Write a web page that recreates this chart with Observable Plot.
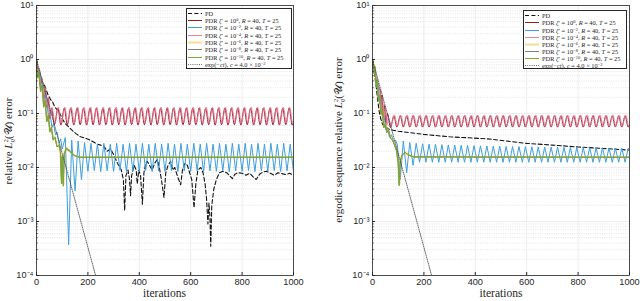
<!DOCTYPE html>
<html><head><meta charset="utf-8">
<script src="https://cdn.jsdelivr.net/npm/d3@7"></script>
<script src="https://cdn.jsdelivr.net/npm/@observablehq/plot@0.6"></script>
<style>
html,body{margin:0;padding:0;background:#fff;}
#fig{position:relative;width:640px;height:301px;overflow:hidden;}
#fig > svg{position:absolute;top:0;}
.tx{position:absolute;font-family:"Liberation Serif","DejaVu Serif",serif;color:#262626;white-space:nowrap;line-height:1;}
.ylab{font-size:11px;transform:translate(-50%,-50%) rotate(-90deg);}
.xlab{font-size:11.5px;transform:translate(-50%,-50%);}
.ss{display:inline-block;vertical-align:-0.3em;font-size:0.62em;line-height:0.95;text-align:left;}
.legend{position:absolute;background:#fff;border:0.8px solid #262626;box-sizing:border-box;font-family:"Liberation Serif","DejaVu Serif",serif;font-size:6.4px;color:#262626;}
.row{position:absolute;left:0;height:7px;display:flex;align-items:center;white-space:nowrap;}
.row svg{flex:none;margin-right:2px;}
.legend sup{font-size:0.7em;vertical-align:0.45em;line-height:0;}
</style></head><body><div id="fig"></div>
<script>
// ---------- axis ticks ----------
const xTicks = [0, 200, 400, 600, 800, 1000];
const xTickLabels = ["0", "200", "400", "600", "800", "1000"];
const yTicks = [1e-4, 1e-3, 1e-2, 1e-1, 1e0, 1e1];
const yTickLabels = ["10\u207B\u2074", "10\u207B\u00B3", "10\u207B\u00B2", "10\u207B\u00B9", "10\u2070", "10\u00B9"];

// ---------- legend ----------
const legendKeys = ["pd", "z0", "z2", "z4", "z6", "z8", "z10", "exp"];
const legendLabels = [
  "PD",
  "PDR <i>ζ</i>′ = 10<sup>0</sup>, <i>R</i> = 40, <i>T</i> = 25",
  "PDR <i>ζ</i>′ = 10<sup>−2</sup>, <i>R</i> = 40, <i>T</i> = 25",
  "PDR <i>ζ</i>′ = 10<sup>−4</sup>, <i>R</i> = 40, <i>T</i> = 25",
  "PDR <i>ζ</i>′ = 10<sup>−6</sup>, <i>R</i> = 40, <i>T</i> = 25",
  "PDR <i>ζ</i>′ = 10<sup>−8</sup>, <i>R</i> = 40, <i>T</i> = 25",
  "PDR <i>ζ</i>′ = 10<sup>−10</sup>, <i>R</i> = 40, <i>T</i> = 25",
  "exp(−<i>ct</i>), <i>c</i> = 4.0 × 10<sup>−2</sup>"
];

// ---------- LEFT panel: relative error ----------
const pdL = [[0,1.0],[4,0.75],[8,0.5],[14,0.55],[20,0.38],[28,0.36],[35,0.3],[45,0.22],[55,0.18],[61,0.17],[72,0.13],[87,0.11],[100,0.08],[112,0.065],[126,0.056],[140,0.048],[155,0.042],[171,0.037],[190,0.035],[204,0.033],[220,0.03],[236,0.027],[250,0.026],[262,0.025],[275,0.02],[288,0.022],[301,0.017],[315,0.012],[330,0.009],[338,0.006],[343,0.0016],[348,0.007],[356,0.009],[362,0.006],[366,0.003],[370,0.007],[380,0.011],[388,0.009],[392,0.005],[398,0.009],[405,0.007],[412,0.0021],[418,0.008],[425,0.012],[431,0.013],[440,0.011],[450,0.009],[460,0.012],[470,0.014],[478,0.01],[486,0.006],[496,0.0028],[503,0.008],[512,0.011],[522,0.013],[530,0.009],[538,0.01],[548,0.007],[561,0.0048],[568,0.009],[578,0.012],[587,0.011],[596,0.008],[604,0.006],[613,0.0018],[620,0.005],[628,0.009],[639,0.01],[648,0.008],[656,0.005],[662,0.0025],[667,0.0009],[671,0.0022],[675,0.0012],[678,0.00035],[682,0.002],[690,0.004],[700,0.006],[712,0.008],[725,0.0085],[740,0.008],[752,0.007],[762,0.0062],[772,0.0075],[785,0.008],[800,0.0078],[815,0.0072],[830,0.0078],[842,0.0068],[855,0.006],[868,0.0075],[880,0.0082],[895,0.0085],[910,0.0078],[925,0.0072],[940,0.008],[955,0.0077],[970,0.0074],[985,0.0078],[1000,0.0072]];

const z0L = [[0,1.0],[4,0.55],[8,0.68],[14,0.33],[20,0.45],[27,0.2],[33,0.28],[40,0.13],[46,0.19],[52,0.08],[58,.125],[70,.062],[83,.126],[95,.061],[108,.125],[120,.062],[133,.126],[145,.061],[158,.125],[170,.062],[183,.126],[195,.061],[208,.125],[220,.062],[233,.126],[245,.061],[258,.125],[270,.062],[283,.126],[295,.061],[308,.125],[320,.062],[333,.126],[345,.061],[358,.125],[370,.062],[383,.126],[395,.061],[408,.125],[420,.062],[433,.126],[445,.061],[458,.125],[470,.062],[483,.126],[495,.061],[508,.125],[520,.062],[533,.126],[545,.061],[558,.125],[570,.062],[583,.126],[595,.061],[608,.125],[620,.062],[633,.126],[645,.061],[658,.125],[670,.062],[683,.126],[695,.061],[708,.125],[720,.062],[733,.126],[745,.061],[758,.125],[770,.062],[783,.126],[795,.061],[808,.125],[820,.062],[833,.126],[845,.061],[858,.125],[870,.062],[883,.126],[895,.061],[908,.125],[920,.062],[933,.126],[945,.061],[958,.125],[970,.062],[983,.126],[995,.061],[1000,.07]];

const z2L = [[0,0.9],[7,0.55],[13,0.62],[20,0.3],[26,0.36],[33,0.16],[39,0.2],[46,0.09],[52,0.11],[60,0.055],[66,0.065],[74,0.04],[80,0.045],[88,0.028],[94,0.034],[100,0.022],[112,0.036],[125,0.00037],[137,0.032],[150,0.0037],[162,0.031],[175,0.006],[187,0.029],[200,.0085],[212,.028],[225,.0088],[237,.027],[250,.0084],[262,.028],[275,.0087],[287,.027],[300,.0085],[312,.028],[325,.0088],[337,.027],[350,.0084],[362,.028],[375,.0087],[387,.027],[400,.0085],[412,.028],[425,.0088],[437,.027],[450,.0084],[462,.028],[475,.0087],[487,.027],[500,.0085],[512,.028],[525,.0088],[537,.027],[550,.0084],[562,.028],[575,.0087],[587,.027],[600,.0085],[612,.028],[625,.0088],[637,.027],[650,.0084],[662,.028],[675,.0087],[687,.027],[700,.0085],[712,.028],[725,.0088],[737,.027],[750,.0084],[762,.028],[775,.0087],[787,.027],[800,.0085],[812,.028],[825,.0088],[837,.027],[850,.0084],[862,.028],[875,.0087],[887,.027],[900,.0085],[912,.028],[925,.0088],[937,.027],[950,.0084],[962,.028],[975,.0087],[987,.027],[1000,.0085]];

const z4L = [[0,0.95],[5,0.6],[9,0.7],[15,0.36],[21,0.46],[28,0.22],[34,0.3],[41,0.14],[47,0.2],[54,0.085],[60,.132],[72,.067],[85,.131],[97,.066],[110,.132],[122,.067],[135,.131],[147,.066],[160,.132],[172,.067],[185,.131],[197,.066],[210,.132],[222,.067],[235,.131],[247,.066],[260,.132],[272,.067],[285,.131],[297,.066],[310,.132],[322,.067],[335,.131],[347,.066],[360,.132],[372,.067],[385,.131],[397,.066],[410,.132],[422,.067],[435,.131],[447,.066],[460,.132],[472,.067],[485,.131],[497,.066],[510,.132],[522,.067],[535,.131],[547,.066],[560,.132],[572,.067],[585,.131],[597,.066],[610,.132],[622,.067],[635,.131],[647,.066],[660,.132],[672,.067],[685,.131],[697,.066],[710,.132],[722,.067],[735,.131],[747,.066],[760,.132],[772,.067],[785,.131],[797,.066],[810,.132],[822,.067],[835,.131],[847,.066],[860,.132],[872,.067],[885,.131],[897,.066],[910,.132],[922,.067],[935,.131],[947,.066],[960,.132],[972,.067],[985,.131],[997,.066],[1000,.07]];

const z6L = [[0,0.9],[5,0.5],[10,0.58],[16,0.27],[22,0.33],[28,0.14],[34,0.18],[40,0.075],[46,0.095],[52,0.048],[58,0.056],[65,0.033],[72,0.037],[80,0.025],[87,0.027],[93,0.02],[98,0.0055],[101,0.017],[105,0.005],[109,0.019],[117,0.023],[130,0.02],[150,0.0165],[170,0.0155],[1000,0.0155]];
const z8L = [[0,0.88],[5,0.48],[10,0.57],[16,0.26],[22,0.33],[28,0.135],[34,0.175],[40,0.072],[46,0.092],[52,0.047],[58,0.055],[65,0.033],[72,0.036],[80,0.024],[87,0.026],[93,0.02],[97,0.006],[100,0.016],[104,0.005],[108,0.018],[116,0.022],[128,0.02],[148,0.0165],[168,0.0155],[1000,0.0155]];
const z10L = [[0,0.85],[5,0.45],[10,0.55],[16,0.25],[22,0.32],[28,0.13],[34,0.17],[40,0.07],[46,0.09],[52,0.045],[58,0.055],[65,0.032],[72,0.036],[80,0.024],[87,0.026],[93,0.02],[97,0.005],[100,0.016],[104,0.0045],[108,0.018],[116,0.023],[128,0.021],[145,0.017],[165,0.0155],[1000,0.0155]];

const expL = [[0,1.0],[250,0.000045]];

// ---------- RIGHT panel: ergodic sequence relative error ----------
const pdR = [[0,1.0],[5,0.7],[10,0.45],[15,0.3],[20,0.18],[26,0.11],[32,0.08],[40,0.062],[50,0.055],[60,0.052],[80,0.049],[100,0.047],[150,0.044],[200,0.041],[300,0.037],[445,0.034],[520,0.031],[600,0.028],[700,0.026],[800,0.024],[900,0.0225],[1000,0.021]];

const z0R = [[0,1.0],[5,0.62],[10,0.5],[15,0.42],[20,0.36],[25,0.3],[30,0.27],[33,0.12],[37,0.22],[42,0.09],[47,0.14],[52,0.065],[58,0.1],[70,.055],[83,.09],[95,.056],[108,.091],[120,.056],[133,.09],[145,.056],[158,.091],[170,.056],[183,.09],[195,.056],[208,.091],[220,.056],[233,.09],[245,.056],[258,.091],[270,.056],[283,.09],[295,.056],[308,.091],[320,.056],[333,.09],[345,.056],[358,.091],[370,.056],[383,.09],[395,.056],[408,.091],[420,.056],[433,.09],[445,.056],[458,.091],[470,.056],[483,.09],[495,.056],[508,.091],[520,.056],[533,.09],[545,.056],[558,.091],[570,.056],[583,.09],[595,.056],[608,.091],[620,.056],[633,.09],[645,.056],[658,.091],[670,.056],[683,.09],[695,.056],[708,.091],[720,.056],[733,.09],[745,.056],[758,.091],[770,.056],[783,.09],[795,.056],[808,.091],[820,.056],[833,.09],[845,.056],[858,.091],[870,.056],[883,.09],[895,.056],[908,.091],[920,.056],[933,.09],[945,.056],[958,.091],[970,.056],[983,.09],[995,.056],[1000,.062]];

const z2R = [[0,0.95],[6,0.55],[11,0.65],[17,0.3],[22,0.36],[28,0.15],[33,0.18],[39,0.08],[45,0.09],[52,0.05],[58,0.055],[66,0.037],[74,0.04],[82,0.03],[90,0.032],[97,0.026],[108,0.006],[120,0.031],[133,0.008],[145,0.029],[158,0.011],[170,0.028],[183,.0125],[195,.0275],[208,.0125],[220,.027],[233,.0125],[245,.0268],[258,.0125],[270,.0265],[283,.0125],[295,.0262],[308,.0125],[320,.026],[333,.0125],[345,.0258],[358,.0125],[370,.0256],[383,.0125],[395,.0254],[408,.0125],[420,.0252],[433,.0125],[445,.025],[458,.0125],[470,.0249],[483,.0125],[495,.0248],[508,.0125],[520,.0246],[533,.0125],[545,.0245],[558,.0125],[570,.0244],[583,.0125],[595,.0243],[608,.0125],[620,.0242],[633,.0125],[645,.0241],[658,.0125],[670,.024],[683,.0125],[695,.0239],[708,.0125],[720,.0238],[733,.0125],[745,.0237],[758,.0125],[770,.0236],[783,.0125],[795,.0235],[808,.0125],[820,.0234],[833,.0125],[845,.0233],[858,.0125],[870,.0232],[883,.0125],[895,.0231],[908,.0125],[920,.023],[933,.0125],[945,.0229],[958,.0125],[970,.0228],[983,.0125],[995,.0227],[1000,.022]];

const z4R = [[0,1.0],[6,0.6],[11,0.5],[17,0.4],[23,0.33],[29,0.25],[34,0.13],[39,0.2],[45,0.085],[50,0.12],[56,0.06],[62,0.085],[72,.059],[85,.094],[97,.059],[110,.093],[122,.059],[135,.094],[147,.059],[160,.093],[172,.059],[185,.094],[197,.059],[210,.093],[222,.059],[235,.094],[247,.059],[260,.093],[272,.059],[285,.094],[297,.059],[310,.093],[322,.059],[335,.094],[347,.059],[360,.093],[372,.059],[385,.094],[397,.059],[410,.093],[422,.059],[435,.094],[447,.059],[460,.093],[472,.059],[485,.094],[497,.059],[510,.093],[522,.059],[535,.094],[547,.059],[560,.093],[572,.059],[585,.094],[597,.059],[610,.093],[622,.059],[635,.094],[647,.059],[660,.093],[672,.059],[685,.094],[697,.059],[710,.093],[722,.059],[735,.094],[747,.059],[760,.093],[772,.059],[785,.094],[797,.059],[810,.093],[822,.059],[835,.094],[847,.059],[860,.093],[872,.059],[885,.094],[897,.059],[910,.093],[922,.059],[935,.094],[947,.059],[960,.093],[972,.059],[985,.094],[997,.059],[1000,.062]];

const z6R = [[0,1.0],[5,0.62],[9,0.76],[14,0.36],[18,0.43],[23,0.19],[28,0.23],[33,0.1],[38,0.125],[44,0.057],[50,0.066],[56,0.046],[62,0.05],[70,0.036],[78,0.033],[86,0.027],[94,0.021],[100,0.012],[105,0.005],[109,0.013],[116,0.017],[128,0.019],[142,0.017],[162,0.0157],[1000,0.0155]];
const z8R = [[0,1.0],[5,0.6],[9,0.74],[14,0.35],[18,0.42],[23,0.18],[28,0.22],[33,0.1],[38,0.12],[44,0.055],[50,0.065],[56,0.045],[62,0.05],[70,0.035],[78,0.032],[86,0.026],[94,0.02],[100,0.012],[104,0.0047],[108,0.013],[115,0.017],[127,0.019],[140,0.017],[160,0.0157],[1000,0.0155]];
const z10R = [[0,1.0],[5,0.58],[9,0.72],[14,0.34],[18,0.41],[23,0.17],[28,0.21],[33,0.095],[38,0.115],[44,0.054],[50,0.064],[56,0.044],[62,0.049],[70,0.035],[78,0.032],[86,0.026],[94,0.02],[100,0.012],[104,0.0046],[108,0.013],[115,0.017],[127,0.019],[140,0.017],[160,0.0157],[1000,0.0155]];

const expR = [[0,1.0],[250,0.000045]];

// ---------- styles ----------
const styles = {
  pd:  {stroke: "#111111", w: 1.1, dash: "4,2.4"},
  z0:  {stroke: "#A2142F", w: 1.0, curve: "monotone-x"},
  z2:  {stroke: "#3C9FDC", w: 1.0},
  z4:  {stroke: "#E0788C", w: 0.9, curve: "monotone-x"},
  z6:  {stroke: "#EDB120", w: 2.1, op: 0.45},
  z8:  {stroke: "#808080", w: 1.0},
  z10: {stroke: "#77AC30", w: 1.0},
  exp: {stroke: "#444444", w: 0.8, dash: "1,1.2"}
};
const drawOrder = ["pd", "z0", "z2", "z4", "z6", "z8", "z10", "exp"];

const minorY = [];
for (const e of [-4, -3, -2, -1, 0]) for (const m of [2,3,4,5,6,7,8,9]) minorY.push(m * Math.pow(10, e));
const yLab = new Map(yTicks.map((t, i) => [t, yTickLabels[i]]));
const xLab = new Map(xTicks.map((t, i) => [t, xTickLabels[i]]));

function panel(seriesMap, ml, mr) {
  const marks = [
    Plot.gridY(minorY, {stroke: "#d4d4d4", strokeOpacity: 1, strokeWidth: 0.6, strokeDasharray: "1,1.3"}),
    Plot.gridY(yTicks, {stroke: "#e8e8e8", strokeOpacity: 1, strokeWidth: 0.8}),
    Plot.gridX(xTicks, {stroke: "#e8e8e8", strokeOpacity: 1, strokeWidth: 0.8})
  ];
  for (const k of drawOrder) {
    const s = styles[k];
    marks.push(Plot.line(seriesMap[k], {x: d => d[0], y: d => d[1], stroke: s.stroke, strokeWidth: s.w,
      strokeOpacity: s.op ?? 1, strokeDasharray: s.dash, curve: s.curve || "linear", clip: true}));
  }
  marks.push(Plot.frame({stroke: "#262626", strokeWidth: 0.8}));
  marks.push(Plot.axisY(yTicks, {anchor: "left", tickSize: 0, tickPadding: 3, tickFormat: d => yLab.get(d), label: null}));
  marks.push(Plot.axisX(xTicks, {anchor: "bottom", tickSize: 0, tickPadding: 3, tickFormat: d => xLab.get(d), label: null}));
  marks.push(Plot.axisY(yTicks, {anchor: "left", tickSize: -3, tickFormat: () => "", label: null, stroke: "#262626"}));
  marks.push(Plot.axisY(minorY, {anchor: "left", tickSize: -1.6, tickFormat: () => "", label: null, stroke: "#262626"}));
  marks.push(Plot.axisX(xTicks, {anchor: "bottom", tickSize: -3, tickFormat: () => "", label: null, stroke: "#262626"}));
  return Plot.plot({
    width: 320, height: 301,
    marginLeft: ml, marginRight: mr, marginTop: 5, marginBottom: 26,
    x: {domain: [0, 1000]},
    y: {type: "log", domain: [1e-4, 10]},
    style: {fontFamily: "'Liberation Sans', Arial, sans-serif", fontSize: "9.2px", color: "#262626", background: "transparent"},
    marks
  });
}

const fig = document.getElementById("fig");
const left = panel({pd: pdL, z0: z0L, z2: z2L, z4: z4L, z6: z6L, z8: z8L, z10: z10L, exp: expL}, 36, 27);
left.style.left = "0px";
const right = panel({pd: pdR, z0: z0R, z2: z2R, z4: z4R, z6: z6R, z8: z8R, z10: z10R, exp: expR}, 52, 11);
right.style.left = "320px";
fig.appendChild(left);
fig.appendChild(right);

const L2 = '<i>L</i><span class="ss">2<br>ϱ</span>(𝒰)';
function addText(cls, html, x, y) {
  const d = document.createElement("div");
  d.className = "tx " + cls;
  d.innerHTML = html;
  d.style.left = x + "px";
  d.style.top = y + "px";
  fig.appendChild(d);
}
addText("ylab", "relative " + L2 + " error", 9, 141);
addText("ylab", "ergodic sequence relative " + L2 + " error", 339, 140);
addText("xlab", "iterations", 164.5, 293.5);
addText("xlab", "iterations", 501, 293.5);

function addLegend(x, y, w, h, rowTop, rowH) {
  const box = document.createElement("div");
  box.className = "legend";
  Object.assign(box.style, {left: x + "px", top: y + "px", width: w + "px", height: h + "px"});
  legendKeys.forEach((k, i) => {
    const s = styles[k];
    const row = document.createElement("div");
    row.className = "row";
    row.style.top = (rowTop + i * rowH) + "px";
    const sw = `<svg width="16" height="7"><line x1="1" x2="15" y1="3.5" y2="3.5" stroke="${s.stroke}" stroke-width="${s.w}" stroke-opacity="${s.op ?? 1}" ${s.dash ? `stroke-dasharray="${s.dash}"` : ""}/></svg>`;
    row.innerHTML = sw + "<span>" + legendLabels[i] + "</span>";
    box.appendChild(row);
  });
  fig.appendChild(box);
}
addLegend(186, 8, 106, 61, 0.5, 7.35);
addLegend(523, 10, 104, 59, 1.2, 7.15);
</script></body></html>
